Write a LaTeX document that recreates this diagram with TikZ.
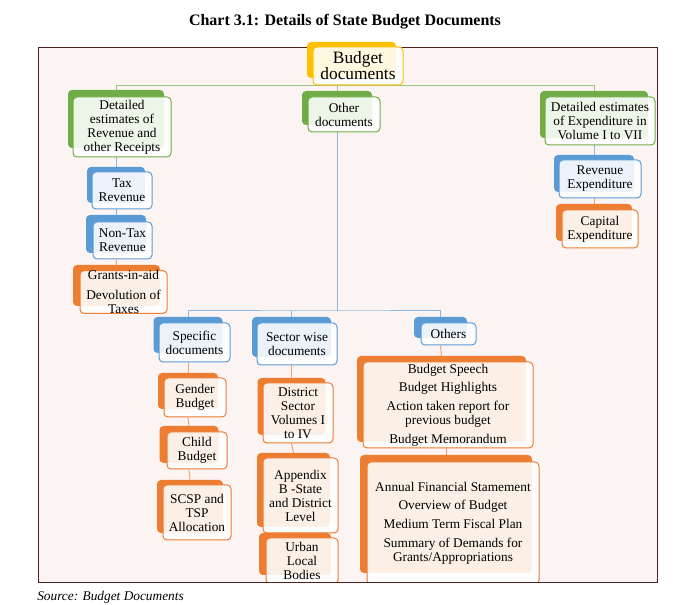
\documentclass[tikz,border=0pt]{standalone}
\usepackage{fontspec}
\setmainfont{Liberation Serif}
\usetikzlibrary{backgrounds}

\definecolor{docgreen}{HTML}{70AD47}
\definecolor{docblue}{HTML}{5B9BD5}
\definecolor{docorange}{HTML}{ED7D31}
\definecolor{docyellow}{HTML}{FFC000}
\definecolor{framefill}{HTML}{FCF3F3}
\definecolor{frameline}{HTML}{4F2222}

\begin{document}
\begin{tikzpicture}[x=0.75pt,y=-0.75pt]
	\tikzset{backbox/.style={fill=#1, rounded corners=3pt, inner sep=0pt}}
	\tikzset{docbox/.style={draw=#1, fill=white, fill opacity=0.88, text opacity=1, rounded corners=3pt, line width=0.75pt, inner sep=0pt, align=center, font=\fontsize{10}{10.5}\selectfont}}
	\tikzset{wh/.style 2 args={minimum width=#1*0.75pt, minimum height=#2*0.75pt}}
	\tikzset{link/.style={draw=#1!70, line width=0.75pt}}

	\useasboundingbox (0,0) rectangle (676,605);
	\node[font=\bfseries\fontsize{12}{14}\selectfont] (title) at (345,22) {Chart 3.1: Details of State Budget Documents};
	\node[anchor=west, inner sep=0pt, font=\itshape\fontsize{10}{12}\selectfont] (source) at (37,597) {Source: Budget Documents};

	\begin{scope}
	\clip (0,0) rectangle (676,581.5);
	% top
	\node[backbox=docyellow, wh={89}{36}] (budgetB) at (351.5,60) {};
	\node[docbox=docyellow, wh={90}{38}, font=\fontsize{13}{12}\selectfont] (budget) at (358,66) {Budget\\documents};

	% second row
	\node[backbox=docgreen, wh={96}{58}] (revenueB) at (116,119) {};
	\node[docbox=docgreen, wh={98}{60}] (revenue) at (122,127) {Detailed\\estimates of\\Revenue and\\other Receipts};
	\node[backbox=docgreen, wh={70}{34}] (otherB) at (337,108) {};
	\node[docbox=docgreen, wh={72}{35}] (other) at (344,114.5) {Other\\documents};
	\node[backbox=docgreen, wh={108}{47}] (expendB) at (594,114.5) {};
	\node[docbox=docgreen, wh={110}{48}] (expend) at (600,121) {Detailed estimates\\of Expenditure in\\Volume I to VII};

	% receipts side
	\node[backbox=docblue, wh={58}{36}] (taxB) at (116,185) {};
	\node[docbox=docblue, wh={60}{37}] (tax) at (122,190.5) {Tax\\Revenue};
	\node[backbox=docblue, wh={60}{38}] (nontaxB) at (116,234) {};
	\node[docbox=docblue, wh={59}{37}] (nontax) at (122.5,240.5) {Non-Tax\\Revenue};
	\node[backbox=docorange, wh={87}{41}] (grantsB) at (116.5,285.5) {};
	\node[docbox=docorange, wh={87}{42}] (grants) at (123.5,292) {Grants-in-aid\\[4pt]Devolution of\\Taxes};

	% expenditure side
	\node[backbox=docblue, wh={80}{37}] (revexpB) at (594,173.5) {};
	\node[docbox=docblue, wh={82}{38}] (revexp) at (600,179) {Revenue\\Expenditure};
	\node[backbox=docorange, wh={76}{37}] (capexpB) at (594,222.5) {};
	\node[docbox=docorange, wh={76}{38}] (capexp) at (600,229) {Capital\\Expenditure};

	% other documents
	\node[backbox=docblue, wh={69}{36}] (specificB) at (188,335) {};
	\node[docbox=docblue, wh={71}{39}] (specific) at (194.5,342.5) {Specific\\documents};
	\node[backbox=docblue, wh={79}{40}] (sectorB) at (291.5,337) {};
	\node[docbox=docblue, wh={80}{42}] (sector) at (297,344) {Sector wise\\documents};
	\node[backbox=docblue, wh={53}{21}] (othersB) at (440.5,327.5) {};
	\node[docbox=docblue, wh={55}{22}] (others) at (448.5,334) {Others};

	\node[backbox=docorange, wh={60}{36}] (genderB) at (188,391) {};
	\node[docbox=docorange, wh={62}{39}] (gender) at (195,397.5) {Gender\\Budget};
	\node[backbox=docorange, wh={59}{37}] (childB) at (189,444.5) {};
	\node[docbox=docorange, wh={60}{37}] (child) at (197,450.5) {Child\\Budget};
	\node[backbox=docorange, wh={66}{53}] (scspB) at (190,506.5) {};
	\node[docbox=docorange, wh={68}{55}] (scsp) at (197,512.5) {SCSP and\\TSP\\Allocation};

	\node[backbox=docorange, wh={68}{57}] (districtB) at (291.5,406.5) {};
	\node[docbox=docorange, wh={70}{60}] (district) at (298,413) {District\\Sector\\Volumes I\\to IV};
	\node[backbox=docorange, wh={73}{74}] (appendixB) at (293.5,490) {};
	\node[docbox=docorange, wh={75}{75}] (appendix) at (300.5,495.5) {Appendix\\B -State\\and District\\Level};
	\node[backbox=docorange, wh={72}{42}] (urbanB) at (295,554) {};
	\node[docbox=docorange, wh={72}{46}] (urban) at (302,561) {Urban\\Local\\Bodies};

	\node[backbox=docorange, wh={169}{86}] (groupaB) at (441.5,399) {};
	\node[docbox=docorange, wh={170}{86}] (groupa) at (448,405) {Budget Speech\\[3.5pt]Budget Highlights\\[3.5pt]Action taken report for\\previous budget\\[3.5pt]Budget Memorandum};
	\node[backbox=docorange, wh={172}{118}] (groupbB) at (446,514) {};
	\node[docbox=docorange, wh={172}{122}] (groupb) at (453,523) {Annual Financial Stamement\\[3.5pt]Overview of Budget\\[3.5pt]Medium Term Fiscal Plan\\[3.5pt]Summary of Demands for\\Grants/Appropriations};
	\end{scope}

	\begin{scope}[on background layer]
	\node[draw=frameline, fill=framefill, line width=0.75pt, anchor=north west, inner sep=0pt, wh={619}{535}] (frame) at (38,47) {};
	\coordinate (hub1) at (otherB.north |- budget.south);
	\coordinate (hub2) at (337,311);
	\draw[link=docgreen] (revenueB.north) |- (hub1) -| (expendB.north);
	\draw[link=docgreen] (hub1) -- (otherB.north);

	\draw[link=docblue] (revenueB |- revenue.south) -- (taxB.north);
	\draw[link=docblue] (taxB |- tax.south) -- (nontaxB.north);
	\draw[link=docorange] (nontaxB |- nontax.south) -- (grantsB.north);

	\draw[link=docblue] (expendB |- expend.south) -- (revexpB.north);
	\draw[link=docorange] (revexpB |- revexp.south) -- (capexpB.north);

	\draw[link=docblue] (otherB |- other.south) -- (hub2);
	\draw[link=docblue] (specificB.north) |- (hub2) -| (othersB.north);
	\draw[link=docblue] (hub2 -| sectorB.north) -- (sectorB.north);

	\draw[link=docorange] (specificB |- specific.south) -- (genderB.north);
	\draw[link=docorange] (genderB |- gender.south) -- (childB.north);
	\draw[link=docorange] (childB |- child.south) -- (scspB.north);
	\draw[link=docorange] (sectorB |- sector.south) -- (districtB.north);
	\draw[link=docorange] (districtB |- district.south) -- (appendixB.north);
	\draw[link=docorange] (appendixB |- appendix.south) -- (urbanB.north);
	\draw[link=docorange] (othersB |- others.south) -- (groupaB.north);
	\draw[link=docorange] (groupbB |- groupa.south) -- (groupbB.north);
	\end{scope}
\end{tikzpicture}
\end{document}
